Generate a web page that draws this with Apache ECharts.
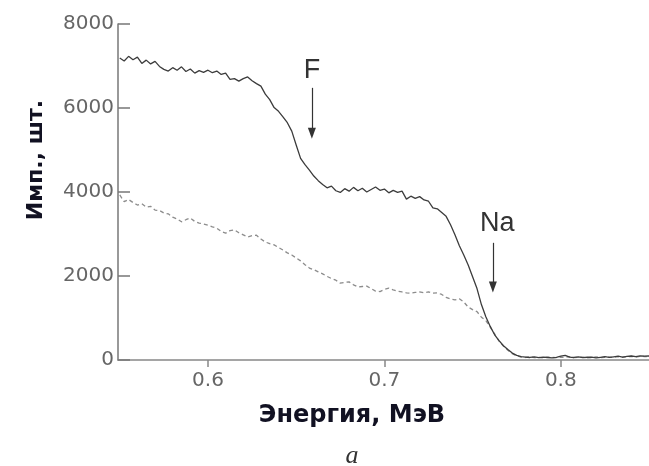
<!DOCTYPE html>
<html>
<head>
<meta charset="utf-8">
<script src="https://cdn.jsdelivr.net/npm/echarts@6/dist/echarts.min.js"></script>
<style>
  html, body { margin: 0; padding: 0; background: #fff; }
  #chart { width: 649px; height: 466px; }
</style>
</head>
<body>
<div id="chart"></div>
<script>
// energy grid, MeV
const energies = [
  0.5500, 0.5525, 0.5550, 0.5575, 0.5600, 0.5625, 0.5650, 0.5675, 0.5700, 0.5725,
  0.5750, 0.5775, 0.5800, 0.5825, 0.5850, 0.5875, 0.5900, 0.5925, 0.5950, 0.5975,
  0.6000, 0.6025, 0.6050, 0.6075, 0.6100, 0.6125, 0.6150, 0.6175, 0.6200, 0.6225,
  0.6250, 0.6275, 0.6300, 0.6325, 0.6350, 0.6375, 0.6400, 0.6425, 0.6450, 0.6475,
  0.6500, 0.6525, 0.6550, 0.6575, 0.6600, 0.6625, 0.6650, 0.6675, 0.6700, 0.6725,
  0.6750, 0.6775, 0.6800, 0.6825, 0.6850, 0.6875, 0.6900, 0.6925, 0.6950, 0.6975,
  0.7000, 0.7025, 0.7050, 0.7075, 0.7100, 0.7125, 0.7150, 0.7175, 0.7200, 0.7225,
  0.7250, 0.7275, 0.7300, 0.7325, 0.7350, 0.7375, 0.7400, 0.7425, 0.7450, 0.7475,
  0.7500, 0.7525, 0.7550, 0.7575, 0.7600, 0.7625, 0.7650, 0.7675, 0.7700, 0.7725,
  0.7750, 0.7775, 0.7800, 0.7825, 0.7850, 0.7875, 0.7900, 0.7925, 0.7950, 0.7975,
  0.8000, 0.8025, 0.8050, 0.8075, 0.8100, 0.8125, 0.8150, 0.8175, 0.8200, 0.8225,
  0.8250, 0.8275, 0.8300, 0.8325, 0.8350, 0.8375, 0.8400, 0.8425, 0.8450, 0.8475,
  0.8500
];

// solid spectrum
const countsSolid = [
  7190, 7120, 7230, 7150, 7210, 7060, 7140, 7050, 7110, 6990,
  6920, 6880, 6960, 6900, 6980, 6870, 6930, 6830, 6890, 6850,
  6900, 6840, 6880, 6800, 6830, 6680, 6700, 6640, 6700, 6740,
  6650, 6580, 6520, 6330, 6200, 6010, 5920, 5790, 5650, 5450,
  5120, 4800, 4650, 4520, 4380, 4270, 4180, 4100, 4140, 4030,
  3990, 4080, 4020, 4110, 4030, 4090, 4000, 4060, 4120, 4040,
  4070, 3980, 4040, 3990, 4020, 3830, 3900, 3850, 3890, 3810,
  3780, 3620, 3600, 3510, 3420, 3220, 2980, 2720, 2500, 2260,
  1980, 1700, 1320, 1030, 800, 600, 460, 340, 250, 165,
  110, 80, 70, 60, 75, 55, 70, 60, 50, 65,
  90, 110, 70, 60, 75, 55, 65, 70, 50, 65,
  80, 60, 75, 90, 70, 85, 95, 80, 100, 90,
  95
];

// dashed spectrum
const countsDashed = [
  3930, 3770, 3820, 3750, 3690, 3720, 3640, 3660, 3570, 3560,
  3500, 3480, 3400, 3360, 3290, 3340, 3380, 3300, 3260, 3240,
  3210, 3170, 3140, 3060, 3020, 3080, 3100, 3030, 2980, 2930,
  2960, 2970, 2880, 2810, 2770, 2740, 2680, 2620, 2550, 2500,
  2430, 2360, 2270, 2190, 2150, 2100, 2050, 1990, 1940, 1900,
  1830, 1850, 1860, 1790, 1740, 1750, 1760, 1700, 1640, 1630,
  1680, 1710, 1670, 1640, 1620, 1600, 1590, 1610, 1620, 1600,
  1620, 1590, 1600, 1560, 1490, 1450, 1430, 1460, 1380, 1260,
  1200, 1150, 1020, 940, 780, 620, 450, 330, 230, 150,
  100, 70, 60, 75, 55, 65, 50, 70, 60, 55,
  70, 60, 80, 55, 65, 70, 50, 60, 75, 55,
  65, 70, 60, 80, 65, 75, 85, 70, 90, 80,
  85
];

const xTicks = [0.6, 0.7, 0.8];
const yTicks = [0, 2000, 4000, 6000, 8000];

// edge markers: label, label anchor, arrow start, arrow end
const edgeLabels = ['F', 'Na'];
const edgeLabelAt = [[0.6589, 6900], [0.7640, 3240]];
const edgeArrowFrom = [[0.6589, 6480], [0.7615, 2790]];
const edgeArrowTo = [[0.6589, 5400], [0.7615, 1740]];

const chart = echarts.init(document.getElementById('chart'), null, { renderer: 'canvas' });

const pairs = (vals) => energies.map((e, i) => [e, vals[i]]);

const tickFont = { color: '#666', fontSize: 20, fontFamily: 'DejaVu Sans' };

chart.setOption({
  animation: false,
  backgroundColor: '#fff',
  grid: { left: 118, right: 0, top: 24, bottom: 106 },
  xAxis: {
    type: 'value',
    min: 0.549,
    max: 0.85,
    splitLine: { show: false },
    axisLine: { lineStyle: { color: '#888', width: 1.5 } },
    axisTick: { customValues: xTicks, length: 7, lineStyle: { color: '#888', width: 1.5 } },
    axisLabel: {
      customValues: xTicks,
      margin: 11,
      formatter: (v) => v.toFixed(1),
      ...tickFont
    }
  },
  yAxis: {
    type: 'value',
    min: 0,
    max: 8000,
    splitLine: { show: false },
    axisLine: { show: true, lineStyle: { color: '#777', width: 1.5 } },
    axisTick: { customValues: yTicks, inside: true, length: 12, lineStyle: { color: '#777', width: 1.5 } },
    axisLabel: { customValues: yTicks, margin: 4, formatter: (v) => String(v), ...tickFont }
  },
  series: [
    {
      type: 'line',
      data: pairs(countsDashed),
      showSymbol: false,
      lineStyle: { color: '#8c8c8c', width: 1.3, type: [4, 3] },
      z: 2
    },
    {
      type: 'line',
      data: pairs(countsSolid),
      showSymbol: false,
      lineStyle: { color: '#3c3c3c', width: 1.3 },
      z: 3,
      markLine: {
        silent: true,
        symbol: ['none', 'triangle'],
        symbolSize: [8, 11],
        label: { show: false },
        lineStyle: { color: '#333', width: 1.2, type: 'solid' },
        data: edgeLabels.map((_, i) => [
          { coord: edgeArrowFrom[i] },
          { coord: edgeArrowTo[i], symbolRotate: 180 }
        ])
      },
      markPoint: {
        silent: true,
        symbol: 'circle',
        symbolSize: 0,
        label: {
          show: true,
          position: 'inside',
          color: '#333',
          fontFamily: 'Liberation Sans',
          fontSize: 27,
          formatter: (p) => p.name
        },
        data: edgeLabels.map((name, i) => ({ name, coord: edgeLabelAt[i] }))
      }
    }
  ],
  graphic: [
    {
      type: 'text',
      x: 352, y: 416,
      style: {
        text: 'Энергия, МэВ',
        fill: '#111122',
        font: 'bold 24px "DejaVu Sans"',
        align: 'center',
        verticalAlign: 'middle'
      }
    },
    {
      type: 'text',
      x: 36, y: 160,
      rotation: Math.PI / 2,
      style: {
        text: 'Имп., шт.',
        fill: '#111122',
        font: 'bold 22px "DejaVu Sans"',
        align: 'center',
        verticalAlign: 'middle'
      }
    },
    {
      type: 'text',
      x: 352, y: 456,
      style: {
        text: 'а',
        fill: '#333',
        font: 'italic 26px "Liberation Serif"',
        align: 'center',
        verticalAlign: 'middle'
      }
    }
  ]
});

window.addEventListener('resize', () => chart.resize());
</script>
</body>
</html>
